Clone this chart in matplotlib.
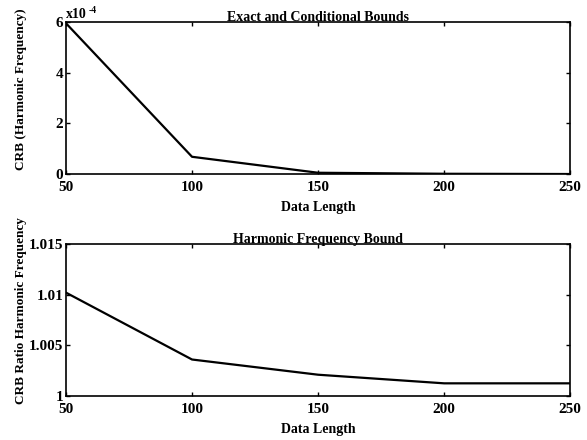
import numpy as np
import matplotlib
matplotlib.use("Agg")
import matplotlib.pyplot as plt

plt.rcParams['font.family'] = ['Liberation Serif', 'DejaVu Serif']
plt.rcParams['font.weight'] = 'bold'

data_length = [50, 100, 150, 200, 250]
crb_exact = [5.95e-4, 0.68e-4, 0.05e-4, 0.01e-4, 0.0]
crb_ratio = [1.0102, 1.0036, 1.0021, 1.00125, 1.00125]

fig = plt.figure(figsize=(5.87, 4.4), dpi=100)
ax1 = fig.add_axes([0.1124, 0.6045, 0.859, 0.3455])
ax2 = fig.add_axes([0.1124, 0.1, 0.859, 0.3455])


def style(ax, ylabel):
    ax.set_xlim(50, 250)
    ax.set_xticks([50, 100, 150, 200, 250])
    ax.tick_params(direction='in', top=True, right=True, length=3,
                   labelsize=11, width=1)
    ax.tick_params(axis='x', pad=5)
    ax.tick_params(axis='y', pad=2)
    for s in ax.spines.values():
        s.set_linewidth(1.2)
    ax.set_xlabel('Data Length', fontsize=10, fontweight='bold', labelpad=5)
    ax.set_ylabel(ylabel, fontsize=9.5, fontweight='bold')
    ax.yaxis.set_label_coords(-0.077, 0.56)


ax1.plot(data_length, np.array(crb_exact) * 1e4, color='black', lw=1.6)
style(ax1, 'CRB (Harmonic Frequency)')
ax1.set_ylim(0, 6)
ax1.set_yticks([0, 2, 4, 6])
ax1.set_title('Exact and Conditional Bounds', fontsize=10, fontweight='bold', pad=1)
ax1.annotate('x10', xy=(0, 1), xycoords='axes fraction', xytext=(0, 1),
             textcoords='offset points', fontsize=10, ha='left', va='bottom')
ax1.annotate('-4', xy=(0, 1), xycoords='axes fraction', xytext=(16, 5),
             textcoords='offset points', fontsize=7, ha='left', va='bottom')

ax2.plot(data_length, crb_ratio, color='black', lw=1.6)
style(ax2, 'CRB Ratio Harmonic Frequency')
ax2.set_ylim(1, 1.015)
ax2.set_yticks([1, 1.005, 1.01, 1.015])
ax2.set_yticklabels(['1', '1.005', '1.01', '1.015'])
ax2.set_title('Harmonic Frequency Bound', fontsize=10, fontweight='bold', pad=1)

fig.savefig('out.png', dpi=100)
